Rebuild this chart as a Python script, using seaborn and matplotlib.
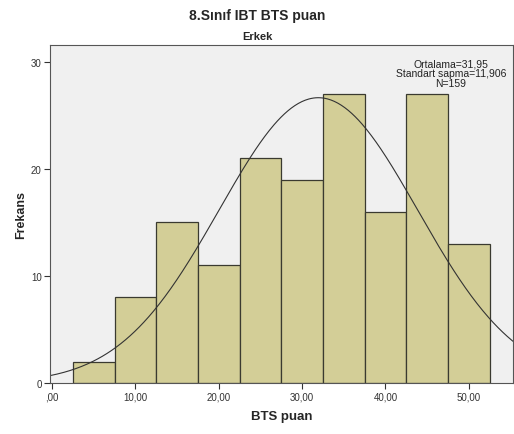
import numpy as np
import pandas as pd
import matplotlib
matplotlib.use("Agg")
import matplotlib.pyplot as plt
import seaborn as sns

bin_centers = [5, 10, 15, 20, 25, 30, 35, 40, 45, 50]
counts = [2, 8, 15, 11, 21, 19, 27, 16, 27, 13]
bin_edges = [2.5, 7.5, 12.5, 17.5, 22.5, 27.5, 32.5, 37.5, 42.5, 47.5, 52.5]
mean_val = 31.95
sd_val = 11.906
n_val = 159
x_ticks = [0, 10, 20, 30, 40, 50]
x_tick_labels = [",00", "10,00", "20,00", "30,00", "40,00", "50,00"]
y_ticks = [0, 10, 20, 30]

sns.set_style("white")
plt.rcParams['font.family'] = ['Liberation Sans', 'DejaVu Sans']

fig = plt.figure(figsize=(5.14, 4.35), dpi=100)
ax = fig.add_axes([50/514, 51/435, 463/514, 338/435])
ax.set_facecolor("#F0F0F0")

df = pd.DataFrame({"x": bin_centers, "w": counts})
sns.histplot(data=df, x="x", weights="w", bins=bin_edges, ax=ax,
             color="#D3CE97", edgecolor="#3a3a30", linewidth=0.9, alpha=1)

xmin, xmax = -0.24, 55.3
xs = np.linspace(xmin, xmax, 400)
width = bin_edges[1] - bin_edges[0]
ys = n_val * width / (sd_val * np.sqrt(2 * np.pi)) * np.exp(-0.5 * ((xs - mean_val) / sd_val) ** 2)
ax.plot(xs, ys, color="#333333", linewidth=0.8)

ax.set_xlim(xmin, xmax)
ax.set_ylim(0, 31.56)
ax.set_xticks(x_ticks)
ax.set_xticklabels(x_tick_labels)
ax.set_yticks(y_ticks)
ax.tick_params(axis="both", which="both", length=4, width=0.8, color="#333333",
               labelsize=7, labelcolor="#333333", direction="out", bottom=True, left=True, pad=2)
for s in ax.spines.values():
    s.set_color("#555555")
    s.set_linewidth(0.8)

ax.set_xlabel("BTS puan", fontsize=9.5, fontweight="bold", labelpad=6)
ax.set_ylabel("Frekans", fontsize=9, fontweight="bold", labelpad=3)

fig.text(0.5, 1 - 16/435, "8.Sınıf IBT BTS puan", ha="center", va="center",
         fontsize=10, fontweight="bold")
fig.text(0.5, 1 - 37/435, "Erkek", ha="center", va="center",
         fontsize=8, fontweight="bold")
ax.text(0.985, 0.96, "Ortalama=31,95\nStandart sapma=11,906\nN=159",
        transform=ax.transAxes, ha="right", va="top", fontsize=7.5,
        color="#222222", multialignment="center", linespacing=0.95)

fig.savefig("out.png", dpi=100)
